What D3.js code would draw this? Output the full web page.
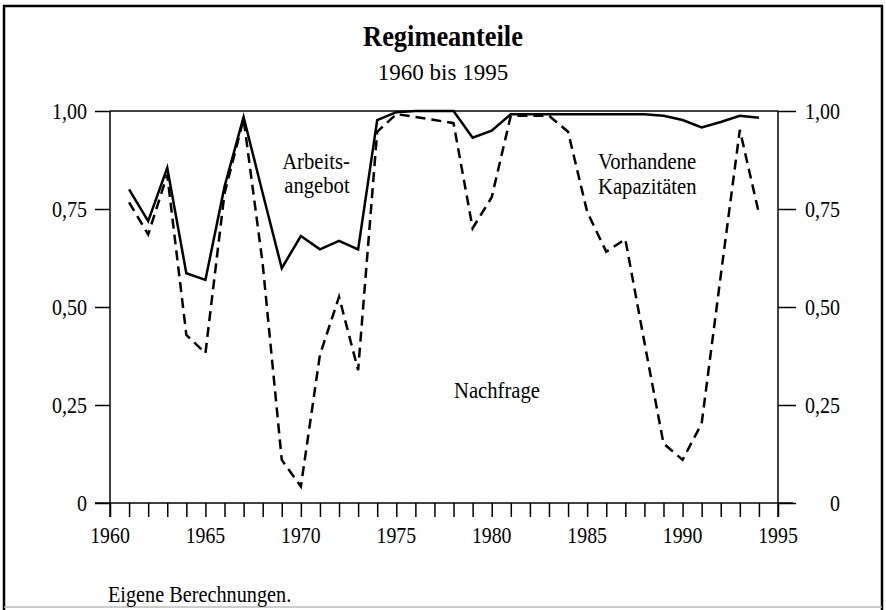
<!DOCTYPE html>
<html>
<head>
<meta charset="utf-8">
<script src="https://cdn.jsdelivr.net/npm/d3@7"></script>
<style>
  body { margin: 0; background: #fff; }
  svg text { font-family: "Liberation Serif", "Times New Roman", Times, serif !important; fill: #000; }
</style>
</head>
<body>
<div id="chart"></div>
<script>
const W = 886, H = 610;

// data
const years = [1961, 1962, 1963, 1964, 1965, 1966, 1967, 1968, 1969, 1970,
               1971, 1972, 1973, 1974, 1975, 1976, 1977, 1978, 1979, 1980,
               1981, 1982, 1983, 1984, 1985, 1986, 1987, 1988, 1989, 1990,
               1991, 1992, 1993, 1994];
// solid line (upper border)
const solid = [0.800, 0.719, 0.855, 0.586, 0.569, 0.807, 0.985, 0.790, 0.599, 0.681,
               0.647, 0.669, 0.647, 0.977, 0.997, 1.000, 1.000, 1.000, 0.932, 0.950,
               0.992, 0.992, 0.992, 0.992, 0.992, 0.992, 0.992, 0.992, 0.988, 0.977,
               0.958, 0.972, 0.988, 0.983];
// dashed line (lower border)
const dashed = [0.767, 0.685, 0.837, 0.429, 0.382, 0.790, 0.980, 0.610, 0.110, 0.042,
                0.378, 0.526, 0.339, 0.947, 0.992, 0.985, 0.977, 0.969, 0.701, 0.780,
                0.988, 0.988, 0.988, 0.947, 0.743, 0.641, 0.673, 0.410, 0.152, 0.110,
                0.203, 0.580, 0.952, 0.739];
const yTicks = [0, 0.25, 0.5, 0.75, 1];
const yTickLabels = ["0", "0,25", "0,50", "0,75", "1,00"];
const xLabelYears = [1960, 1965, 1970, 1975, 1980, 1985, 1990, 1995];

const svg = d3.select("#chart").append("svg")
    .attr("width", W).attr("height", H);

// the original typeface is a narrow Times, squeeze the glyphs a bit
function condense(sel, sx) {
    sel.each(function () {
        const L = this.getComputedTextLength();
        d3.select(this).attr("textLength", L * sx).attr("lengthAdjust", "spacingAndGlyphs");
    });
}

// frame
svg.append("path")
    .attr("d", `M4,${H} L4,6 L882,6 L882,${H}`)
    .attr("fill", "none").attr("stroke", "#000").attr("stroke-width", 2.5);
svg.append("line")
    .attr("x1", 4).attr("x2", 882).attr("y1", 607).attr("y2", 607)
    .attr("stroke", "#bbb").attr("stroke-width", 1.5);

// titles
const title = svg.append("text").attr("x", 443).attr("y", 46)
    .attr("text-anchor", "middle").style("font-size", "30px").style("font-weight", "bold")
    .text("Regimeanteile");
condense(title, 0.88);
svg.append("text").attr("x", 443).attr("y", 80)
    .attr("text-anchor", "middle").style("font-size", "23px")
    .text("1960 bis 1995");

const x = d3.scaleLinear().domain([1960, 1995]).range([110, 778]);
const y = d3.scaleLinear().domain([0, 1]).range([503, 111]);

const g = svg.append("g");

// x axis: tick every year, downwards
const xAxis = g.append("g")
    .attr("transform", `translate(0,${y(0)})`)
    .call(d3.axisBottom(x).tickValues(d3.range(1960, 1996)).tickSize(14).tickFormat(""));
xAxis.select(".domain").remove();
xAxis.selectAll("line").attr("stroke-width", 1.5);

const xl = g.selectAll(".xlab")
    .data(xLabelYears)
    .enter().append("text")
    .attr("x", d => x(d)).attr("y", 543)
    .attr("text-anchor", "middle").style("font-size", "23px")
    .text(d => d);
condense(xl, 0.86);

// y axes
const yl = g.append("g")
    .attr("transform", `translate(${x(1960)},0)`)
    .call(d3.axisLeft(y).tickValues(yTicks).tickSize(15)
        .tickFormat((d, i) => yTickLabels[i]));
const yr = g.append("g")
    .attr("transform", `translate(${x(1995)},0)`)
    .call(d3.axisRight(y).tickValues(yTicks).tickSize(18)
        .tickFormat((d, i) => yTickLabels[i]));
[yl, yr].forEach(a => {
    a.select(".domain").remove();
    a.selectAll("line").attr("stroke-width", 1.5);
    a.selectAll("text").style("font-size", "23px");
});
yl.selectAll("text").attr("x", -23);
yr.selectAll("text").attr("text-anchor", "end").attr("x", 62);
condense(yl.selectAll("text"), 0.87);
condense(yr.selectAll("text"), 0.87);

// box lines
g.append("line").attr("x1", x(1960) - 15).attr("x2", x(1995) + 15)
    .attr("y1", y(0)).attr("y2", y(0)).attr("stroke", "#000").attr("stroke-width", 1.5);
g.append("line").attr("x1", x(1960)).attr("x2", x(1995))
    .attr("y1", y(1)).attr("y2", y(1)).attr("stroke", "#000").attr("stroke-width", 1.5);
g.append("line").attr("x1", x(1960)).attr("x2", x(1960))
    .attr("y1", y(1)).attr("y2", y(0) + 14).attr("stroke", "#000").attr("stroke-width", 1.5);
g.append("line").attr("x1", x(1995)).attr("x2", x(1995))
    .attr("y1", y(1)).attr("y2", y(0) + 14).attr("stroke", "#000").attr("stroke-width", 1.5);

// lines
const line = d3.line().x(d => x(d[0])).y(d => y(d[1]));
g.append("path")
    .datum(years.map((yr, i) => [yr, dashed[i]]))
    .attr("d", line).attr("fill", "none").attr("stroke", "#000")
    .attr("stroke-width", 2.5).attr("stroke-dasharray", "10,6");
g.append("path")
    .datum(years.map((yr, i) => [yr, solid[i]]))
    .attr("d", line).attr("fill", "none").attr("stroke", "#000")
    .attr("stroke-width", 2.5).attr("stroke-linejoin", "miter");

// region labels
const lab = (tx, ty, t, anchor) => {
    const t0 = g.append("text").attr("x", tx).attr("y", ty)
        .attr("text-anchor", anchor).style("font-size", "24px").text(t);
    condense(t0, 0.86);
};
lab(316, 169, "Arbeits-", "middle");
lab(317, 193, "angebot", "middle");
lab(598, 169, "Vorhandene", "start");
lab(598, 194, "Kapazitäten", "start");
lab(454, 398, "Nachfrage", "start");

const foot = svg.append("text").attr("x", 108).attr("y", 602)
    .style("font-size", "23px").text("Eigene Berechnungen.");
condense(foot, 0.88);
</script>
</body>
</html>
